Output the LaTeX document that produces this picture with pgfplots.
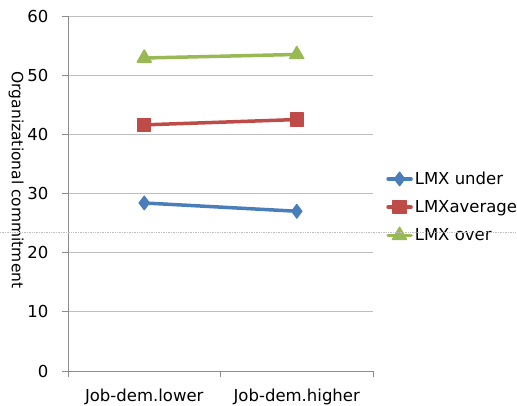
\documentclass[border=0pt]{standalone}
\usepackage{pgfplots}
\pgfplotsset{compat=1.18}
\usepackage{fontspec}
\setmainfont{DejaVu Sans}
\definecolor{cblue}{HTML}{4A7EBB}
\definecolor{cred}{HTML}{BE4B48}
\definecolor{cgreen}{HTML}{98B954}
\definecolor{cgrid}{HTML}{BFBFBF}
\definecolor{caxis}{HTML}{8C8C8C}
\begin{document}
\begin{tikzpicture}[font=\fontsize{16.5bp}{19bp}\selectfont]
\begin{axis}[
  at={(0,0)}, anchor=south west,
  scale only axis, width=305bp, height=355bp,
  xmin=-0.5, xmax=1.5, ymin=0, ymax=60,
  axis x line=bottom, axis y line=left,
  axis line style={caxis, line width=0.8pt, -},
  xtick={0,1}, xticklabels={Job-dem.lower,Job-dem.higher},
  minor xtick={-0.5,0.5,1.5},
  ytick={0,10,...,60},
  tick align=outside,
  major tick length=6bp, minor tick length=6bp,
  xtick style={draw=none},
  minor x tick style={draw=caxis, line width=0.8pt},
  ytick style={draw=caxis, line width=0.8pt},
  ymajorgrids, grid style={cgrid, line width=0.8pt},
  /pgf/number format/assume math mode=true,
  yticklabel style={xshift=-10bp},
  xticklabel style={yshift=-8bp},
  ylabel={Organizational commitment},
  ylabel style={at={(axis description cs:-0.17,0.538)}, anchor=center, rotate=180, font=\fontsize{15.5bp}{18bp}\selectfont},
  legend style={at={(1.043,0.462)}, anchor=west, draw=none, fill=none,
    row sep=10.5bp, inner sep=0pt, legend cell align=left,
    nodes={inner sep=2bp}},
  legend image code/.code={\draw[mark repeat=2,mark phase=2,#1] plot coordinates {(0bp,0bp)(11.5bp,0bp)(23bp,0bp)};},
  every axis plot/.append style={line width=3.5bp, line join=round, line cap=round},
  clip=false,
]
\addplot[cblue, mark=diamond*, mark size=7bp, mark options={line width=1bp, fill=cblue}] coordinates {(0,28.4) (1,27.0)};
\addlegendentry{LMX under}
\addplot[cred, mark=square*, mark size=6.5bp, mark options={line width=1.5bp, fill=cred}] coordinates {(0,41.6) (1,42.5)};
\addlegendentry{LMXaverage}
\addplot[cgreen, mark=triangle*, mark size=8bp, mark options={line width=1.5bp, fill=cgreen}] coordinates {(0,52.9) (1,53.5)};
\addlegendentry{LMX over}
\end{axis}
\draw[densely dotted, gray!50, line width=0.7pt] (-68bp,139bp) -- (449bp,139bp);
\pgfresetboundingbox
\path (-68bp,-35bp) rectangle (449bp,371bp);
\end{tikzpicture}
\end{document}
